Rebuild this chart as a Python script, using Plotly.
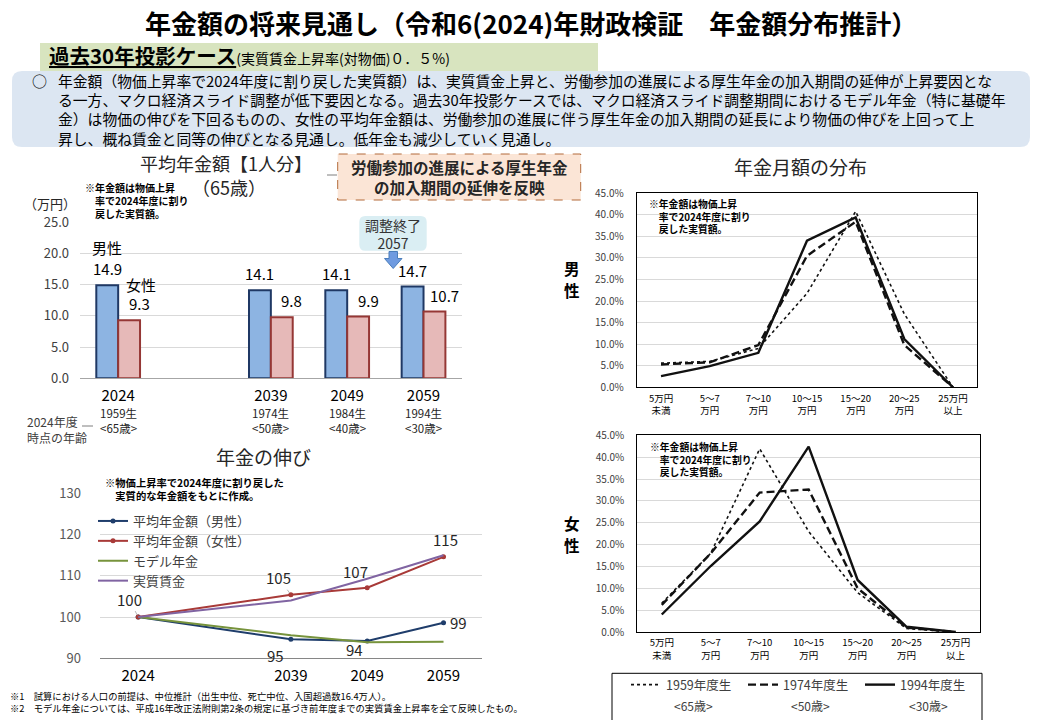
import plotly.graph_objects as go

W, H = 1040, 720
FONT = "Noto Sans CJK JP"

# ---- 平均年金額【1人分】(万円) ----
bar_pos = [0, 2, 3, 4]          # 2024 と 2039 の間は1枠あける
bar_years = ["2024", "2039", "2049", "2059"]
bar_birth = ["1959生", "1974生", "1984生", "1994生"]
bar_age = ["&lt;65歳&gt;", "&lt;50歳&gt;", "&lt;40歳&gt;", "&lt;30歳&gt;"]
avg_male = [14.9, 14.1, 14.1, 14.7]
avg_female = [9.3, 9.8, 9.9, 10.7]

# ---- 年金の伸び (2024=100) ----
growth_pos = [0, 2, 3, 4]
growth_years = ["2024", "2039", "2049", "2059"]
growth_male = [100, 94.6, 94.2, 98.6]
growth_female = [100, 105.4, 107.1, 114.6]
growth_model = [100, 95.6, 93.9, 94.0]
growth_wage = [100, 104.0, 109.3, 115.0]

# ---- 年金月額の分布 (%) ----
dist_cats = ["5万円<br>未満", "5～7<br>万円", "7～10<br>万円", "10～15<br>万円",
             "15～20<br>万円", "20～25<br>万円", "25万円<br>以上"]
dist_cohorts = ["1959年度生", "1974年度生", "1994年度生"]
dist_ages = ["&lt;65歳&gt;", "&lt;50歳&gt;", "&lt;30歳&gt;"]
male_1959 = [5.6, 6.0, 9.0, 21.8, 40.8, 17.0, 0.0]
male_1974 = [5.3, 5.8, 9.8, 30.5, 38.4, 9.8, 0.0]
male_1994 = [2.6, 4.9, 8.0, 34.0, 39.4, 11.2, 0.0]
female_1959 = [6.6, 18.0, 41.9, 23.0, 9.0, 0.8, 0.0]
female_1974 = [6.2, 18.0, 31.9, 32.6, 10.0, 1.0, 0.0]
female_1994 = [4.0, 15.1, 25.3, 42.4, 11.9, 1.2, 0.0]


def px(x):
    return x / W


def py(y):
    return 1 - y / H


def rrect(x0, y0, x1, y1, r):
    return (f"M {px(x0 + r)},{py(y0)} L {px(x1 - r)},{py(y0)} Q {px(x1)},{py(y0)} {px(x1)},{py(y0 + r)} "
            f"L {px(x1)},{py(y1 - r)} Q {px(x1)},{py(y1)} {px(x1 - r)},{py(y1)} "
            f"L {px(x0 + r)},{py(y1)} Q {px(x0)},{py(y1)} {px(x0)},{py(y1 - r)} "
            f"L {px(x0)},{py(y0 + r)} Q {px(x0)},{py(y0)} {px(x0 + r)},{py(y0)} Z")


fig = go.Figure()

# 棒グラフ
fig.add_trace(go.Bar(x=bar_pos, y=avg_male, name="男性", xaxis="x", yaxis="y", showlegend=False,
                     marker=dict(color="#8db4e2", line=dict(color="#1f3864", width=2)), hoverinfo="skip"))
fig.add_trace(go.Bar(x=bar_pos, y=avg_female, name="女性", xaxis="x", yaxis="y", showlegend=False,
                     marker=dict(color="#e6b9b8", line=dict(color="#953735", width=2)), hoverinfo="skip"))

# 年金の伸び
fig.add_trace(go.Scatter(x=growth_pos, y=growth_male, name="平均年金額（男性）", mode="lines+markers",
                         line=dict(color="#1f3d6b", width=2), marker=dict(size=5),
                         xaxis="x2", yaxis="y2", legend="legend"))
fig.add_trace(go.Scatter(x=growth_pos, y=growth_female, name="平均年金額（女性）", mode="lines+markers",
                         line=dict(color="#a83a38", width=2), marker=dict(size=5),
                         xaxis="x2", yaxis="y2", legend="legend"))
fig.add_trace(go.Scatter(x=growth_pos, y=growth_model, name="モデル年金", mode="lines",
                         line=dict(color="#77933c", width=2), xaxis="x2", yaxis="y2", legend="legend"))
fig.add_trace(go.Scatter(x=growth_pos, y=growth_wage, name="実質賃金", mode="lines",
                         line=dict(color="#8064a2", width=2), xaxis="x2", yaxis="y2", legend="legend"))

# 年金月額の分布
styles = [dict(dash="dot", width=1.6), dict(dash="8px,4px", width=2.4), dict(dash="solid", width=2.4)]
for i, (vals, name) in enumerate(zip([male_1959, male_1974, male_1994], dist_cohorts)):
    fig.add_trace(go.Scatter(x=dist_cats, y=vals, name=name, mode="lines",
                             line=dict(color="#111111", **styles[i]),
                             xaxis="x3", yaxis="y3", legend="legend2"))
for i, (vals, name) in enumerate(zip([female_1959, female_1974, female_1994], dist_cohorts)):
    fig.add_trace(go.Scatter(x=dist_cats, y=vals, name=name, mode="lines", showlegend=False,
                             line=dict(color="#111111", **styles[i]),
                             xaxis="x4", yaxis="y4"))

grid = "#d9d9d9"
fig.update_layout(
    width=W, height=H, margin=dict(l=0, r=0, t=0, b=0, autoexpand=False),
    paper_bgcolor="white", plot_bgcolor="rgba(0,0,0,0)",
    font=dict(family=FONT, color="#000"),
    barmode="group", bargap=0.427,
    xaxis=dict(domain=[px(80), px(461.7)], anchor="y", range=[-0.5, 4.5], tickvals=bar_pos,
               ticktext=bar_years, showgrid=False, zeroline=False, showline=True,
               linecolor="#a6a6a6", ticks="", tickfont=dict(size=15), ticklabelstandoff=4),
    yaxis=dict(domain=[py(378.3), py(222.3)], anchor="x", range=[0, 25], dtick=5, tickformat=".1f",
               gridcolor=grid, zeroline=False, ticks="", tickfont=dict(size=13, color="#404040"),
               ticklabelstandoff=10),
    xaxis2=dict(domain=[px(100), px(481.7)], anchor="y2", range=[-0.5, 4.5], tickvals=growth_pos,
                ticktext=growth_years, showgrid=False, zeroline=False, showline=True,
                linecolor="#868686", ticks="", tickfont=dict(size=15), ticklabelstandoff=4),
    yaxis2=dict(domain=[py(658.3), py(493.3)], anchor="x2", range=[90, 130], dtick=10,
                gridcolor=grid, zeroline=False, ticks="", tickfont=dict(size=13, color="#595959"),
                ticklabelstandoff=18),
    xaxis3=dict(domain=[px(636.7), px(977.3)], anchor="y3", type="category", range=[-0.5, 6.5],
                showgrid=False, showline=True, mirror=True, linecolor="#000", ticks="",
                tickfont=dict(size=9.5), ticklabelstandoff=2),
    yaxis3=dict(domain=[py(387.3), py(193.3)], anchor="x3", range=[0, 45], dtick=5, tickformat=".1f",
                ticksuffix="%", gridcolor=grid, zeroline=False, showline=True, mirror=True,
                linecolor="#000", ticks="", tickfont=dict(size=10, color="#404040"), ticklabelstandoff=10),
    xaxis4=dict(domain=[px(637.3), px(980)], anchor="y4", type="category", range=[-0.5, 6.5],
                showgrid=False, showline=True, mirror=True, linecolor="#000", ticks="",
                tickfont=dict(size=9.5), ticklabelstandoff=2),
    yaxis4=dict(domain=[py(632), py(435.3)], anchor="x4", range=[0, 45], dtick=5, tickformat=".1f",
                ticksuffix="%", gridcolor=grid, zeroline=False, showline=True, mirror=True,
                linecolor="#000", ticks="", tickfont=dict(size=10, color="#404040"), ticklabelstandoff=10),
    legend=dict(x=px(93), y=py(506), xanchor="left", yanchor="top", bgcolor="rgba(0,0,0,0)",
                font=dict(size=13, color="#404040"), itemwidth=30, tracegroupgap=0),
    legend2=dict(orientation="h", x=px(626), y=py(670), xanchor="left", yanchor="top",
                 bgcolor="rgba(0,0,0,0)", entrywidth=72, entrywidthmode="pixels",
                 font=dict(size=12.5, color="#404040")),
)

# ---- 図形 ----
shapes = [
    dict(type="rect", x0=px(40), x1=px(598), y0=py(71), y1=py(43), fillcolor="#d8e4bf",
         line=dict(width=0), layer="below"),
    dict(type="path", path=rrect(12, 71, 1030, 147, 10), fillcolor="#dce6f2",
         line=dict(width=0), layer="below"),
    dict(type="rect", x0=px(337.7), x1=px(580.7), y0=py(200), y1=py(154), fillcolor="#fbe5d6",
         line=dict(color="#b36b3a", width=1, dash="dash"), layer="below"),
    dict(type="line", x0=px(327), x1=px(337), y0=py(175), y1=py(175), line=dict(color="#7f7f7f", width=1)),
    dict(type="line", x0=px(82), x1=px(93), y0=py(426), y1=py(426), line=dict(color="#7f7f7f", width=1)),
    dict(type="path", path=rrect(359.3, 216, 426.7, 250.7, 6), fillcolor="#daeef3",
         line=dict(width=0), layer="above"),
    dict(type="path",
         path=(f"M {px(389)},{py(251.5)} L {px(397.5)},{py(251.5)} L {px(397.5)},{py(258.5)} "
               f"L {px(402)},{py(258.5)} L {px(393.2)},{py(268.5)} L {px(384.5)},{py(258.5)} "
               f"L {px(389)},{py(258.5)} Z"),
         fillcolor="#6f9be0", line=dict(color="#4a7ebb", width=1), layer="above"),
    dict(type="rect", x0=px(612), x1=px(982), y0=py(722), y1=py(673.3), fillcolor="rgba(0,0,0,0)",
         line=dict(color="#000", width=1)),
]
for s in shapes:
    s.setdefault("xref", "paper")
    s.setdefault("yref", "paper")
    fig.add_shape(**s)


def note(x, y, text, size, color="#000", xanchor="center", align="center", **kw):
    fig.add_annotation(x=px(x), y=py(y), xref="paper", yref="paper", text=text, showarrow=False,
                       xanchor=xanchor, yanchor="middle", align=align,
                       font=dict(size=size, color=color, family=FONT), **kw)


# ---- ヘッダー ----
note(531, 22, "<b>年金額の将来見通し</b><b><span style='font-size:26px'>（令和6(2024)年財政検証　年金額分布推計）</span></b>",
     26)
note(47, 55, "<b><u>過去30年投影ケース</u></b><span style='font-size:14px'>(実質賃金上昇率(対物価)０．５%)</span>",
     20.5, xanchor="left")
note(30, 80, "○", 15, xanchor="left")
body = [
    "年金額（物価上昇率で2024年度に割り戻した実質額）は、実質賃金上昇と、労働参加の進展による厚生年金の加入期間の延伸が上昇要因とな",
    "る一方、マクロ経済スライド調整が低下要因となる。過去30年投影ケースでは、マクロ経済スライド調整期間におけるモデル年金（特に基礎年",
    "金）は物価の伸びを下回るものの、女性の平均年金額は、労働参加の進展に伴う厚生年金の加入期間の延長により物価の伸びを上回って上",
    "昇し、概ね賃金と同等の伸びとなる見通し。低年金も減少していく見通し。",
]
note(56, 109.5, "<br>".join(body), 14.8, xanchor="left", align="left")

# ---- 平均年金額 ----
note(226, 163, "平均年金額【1人分】", 18, color="#262626")
note(229, 187.3, "（65歳）", 18, color="#262626")
note(82.7, 200, "<b>※年金額は物価上昇<br>　率で2024年度に割り<br>　戻した実質額。</b>", 10, xanchor="left", align="left")
note(49.5, 203.3, "（万円）", 13, color="#262626")
note(459, 177, "<b>労働参加の進展による厚生年金<br>の加入期間の延伸を反映</b>", 15.5, color="#262626")
note(393, 233.5, "調整終了<br>2057", 14, color="#333333")
note(25, 429.5, "2024年度<br>時点の年齢", 12, color="#404040", xanchor="left", align="left")

off = (1 - 0.427) / 4
for xi, m, f, b, a in zip(bar_pos, avg_male, avg_female, bar_birth, bar_age):
    fig.add_annotation(x=xi - off, y=m, xref="x", yref="y", text=f"{m:.1f}", showarrow=False,
                       yanchor="bottom", yshift=4, font=dict(size=15, color="#000"))
    fig.add_annotation(x=xi + off, y=f, xref="x", yref="y", text=f"{f:.1f}", showarrow=False,
                       yanchor="bottom", yshift=4, xshift=10, font=dict(size=15, color="#000"))
    fig.add_annotation(x=xi, y=py(420), xref="x", yref="paper", text=f"{b}<br>{a}", showarrow=False,
                       font=dict(size=11.5, color="#262626"))
fig.add_annotation(x=bar_pos[0] - off, y=avg_male[0], xref="x", yref="y", text="男性", showarrow=False,
                   yanchor="bottom", yshift=25, font=dict(size=15, color="#000"))
fig.add_annotation(x=bar_pos[0] + off, y=avg_female[0], xref="x", yref="y", text="女性", showarrow=False,
                   yanchor="bottom", yshift=23, xshift=12, font=dict(size=15, color="#000"))

# ---- 年金の伸び ----
note(263, 456.7, "年金の伸び", 19, color="#262626")
note(103, 489, "<b>※物価上昇率で2024年度に割り戻した<br>　実質的な年金額をもとに作成。</b>", 10.3,
     xanchor="left", align="left")
marks = [(growth_female, 0, -9, -18, True), (growth_female, 1, -12, -17, True),
         (growth_female, 2, -12, -16, False), (growth_female, 3, 2, -17, False),
         (growth_male, 1, -15, 16, False), (growth_male, 2, -13, 9, False),
         (growth_male, 3, 15, 0, False)]
for series, i, dx, dy, arrow in marks:
    v = series[i]
    if arrow:
        fig.add_annotation(x=growth_pos[i], y=v, xref="x2", yref="y2", text=str(round(v)),
                           showarrow=True, arrowhead=0, arrowwidth=0.8, arrowcolor="#a6a6a6",
                           ax=dx, ay=dy, standoff=2, font=dict(size=15, color="#262626"))
    else:
        fig.add_annotation(x=growth_pos[i], y=v, xref="x2", yref="y2", text=str(round(v)),
                           showarrow=False, xshift=dx, yshift=-dy, font=dict(size=15, color="#262626"))

# ---- 年金月額の分布 ----
note(800, 166.7, "年金月額の分布", 19, color="#262626")
for ch, yy in zip("男性", [268, 290]):
    note(572, yy, f"<b>{ch}</b>", 15.5)
for ch, yy in zip("女性", [523, 545]):
    note(572, yy, f"<b>{ch}</b>", 15.5)
note(646.7, 216.7, "<b>※年金額は物価上昇<br>　率で2024年度に割り<br>　戻した実質額。</b>", 9.8, xanchor="left", align="left")
note(648, 460, "<b>※年金額は物価上昇<br>　率で2024年度に割り<br>　戻した実質額。</b>", 9.8, xanchor="left", align="left")
for xc, a in zip([693, 810, 928], dist_ages):
    note(xc, 705, a, 12, color="#404040")

# ---- 注記 ----
note(8, 702, "※1　試算における人口の前提は、中位推計（出生中位、死亡中位、入国超過数16.4万人）。<br>"
     "※2　モデル年金については、平成16年改正法附則第2条の規定に基づき前年度までの実質賃金上昇率を全て反映したもの。",
     9.3, xanchor="left", align="left")

# ページ余白をなくして図の座標と画面の座標をそろえる
fig.write_html("out.html", config={"displayModeBar": False},
               post_script="document.body.style.margin='0px';")
